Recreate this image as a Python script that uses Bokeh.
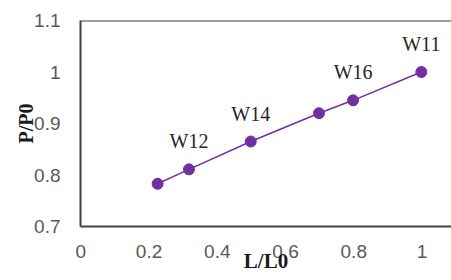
from bokeh.plotting import figure
from bokeh.models import Range1d, NumeralTickFormatter, FixedTicker, Span, ColumnDataSource
from bokeh.core.properties import value
from bokeh.embed import file_html
from bokeh.resources import INLINE

# data
l_ratio = [0.225, 0.317, 0.498, 0.698, 0.798, 0.998]
p_ratio = [0.783, 0.811, 0.865, 0.920, 0.945, 1.000]
point_labels = ["", "W12", "W14", "", "W16", "W11"]
x_ticks = [0, 0.2, 0.4, 0.6, 0.8, 1.0]
y_ticks = [0.7, 0.8, 0.9, 1.0, 1.1]
x_title = "L/L0"
y_title = "P/P0"

purple = "#7030A0"
axis_col = "#404040"
tick_col = "#595959"

p = figure(width=451, height=280, output_backend="svg", toolbar_location=None,
           x_range=Range1d(-0.001, 1.0865), y_range=Range1d(0.7, 1.1),
           min_border_left=80, min_border_right=0, min_border_top=20, min_border_bottom=54)
p.outline_line_color = None
p.grid.grid_line_color = None
p.background_fill_color = "white"
p.border_fill_color = "white"

for ax in (p.xaxis[0], p.yaxis[0]):
    ax.axis_line_color = axis_col
    ax.axis_line_width = 2
    ax.major_tick_line_color = None
    ax.minor_tick_line_color = None
    ax.major_tick_out = 0
    ax.major_tick_in = 0
    ax.major_label_text_font = "Liberation Sans"
    ax.major_label_text_font_size = "19px"
    ax.major_label_text_color = tick_col
    ax.formatter = NumeralTickFormatter(format="0.[0]")
    ax.axis_label_text_font = "Liberation Serif"
    ax.axis_label_text_font_style = "bold"
    ax.axis_label_text_color = "#1a1a1a"
p.xaxis[0].ticker = FixedTicker(ticks=x_ticks)
p.yaxis[0].ticker = FixedTicker(ticks=y_ticks)
p.xaxis[0].major_label_standoff = 18
p.yaxis[0].major_label_standoff = 20

p.yaxis[0].axis_label = y_title
p.yaxis[0].axis_label_text_font_size = "20px"
p.yaxis[0].axis_label_standoff = -6

p.xaxis[0].axis_label = x_title
p.xaxis[0].axis_label_text_font_size = "21px"
p.xaxis[0].axis_label_standoff = -12

p.add_layout(Span(location=1.1, dimension="width", line_color=axis_col, line_width=2))

src = ColumnDataSource(dict(x=l_ratio, y=p_ratio, lab=point_labels))
p.line("x", "y", source=src, line_color=purple, line_width=1.5)
p.scatter("x", "y", source=src, size=11, fill_color=purple, line_color=purple)
p.text("x", "y", text="lab", source=src, text_font=value("Liberation Serif"),
       text_font_size="20px", text_color="#262626", text_align="center",
       text_baseline="middle", y_offset=-28)

open("out.html", "w").write(file_html(p, INLINE))
